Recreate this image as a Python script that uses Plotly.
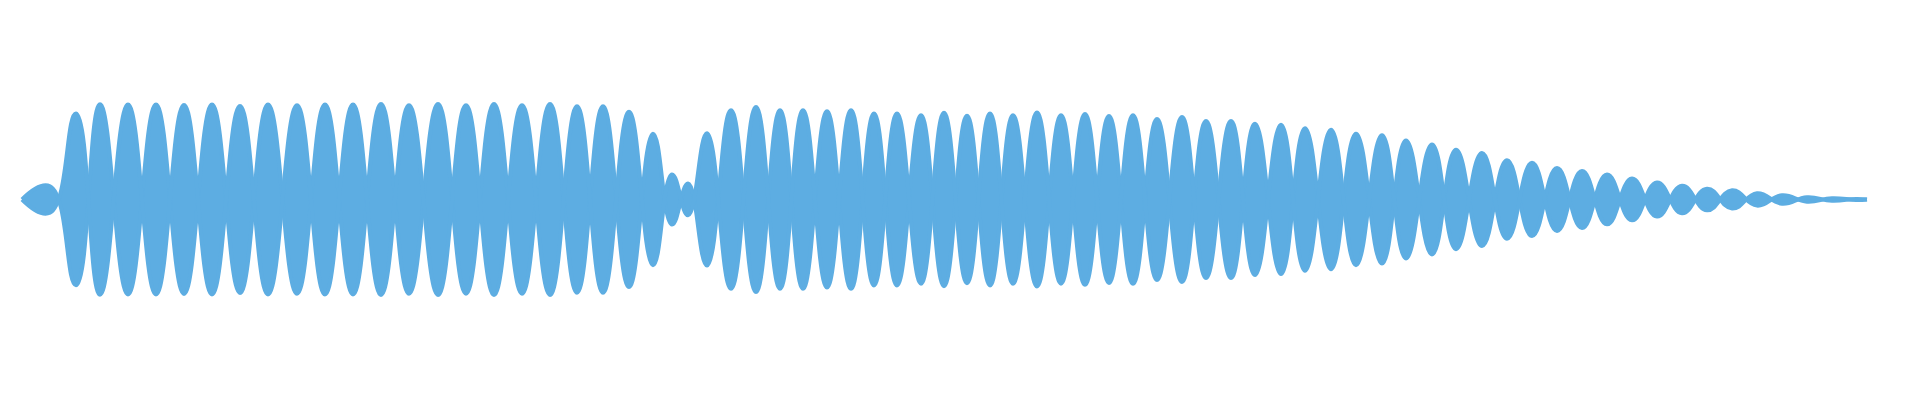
import plotly.graph_objects as go

# where the waveform starts and stops (flat)
wave_start = 22
wave_end = 1867

# position of each lobe's peak
peak_x = [50, 76, 100, 128, 156, 184, 212, 240, 268, 297,
          325, 353, 381, 409, 438, 466, 494, 522, 550, 577,
          603, 629, 653, 672, 688, 707, 731, 756, 780, 803,
          827, 851, 874, 897, 921, 944, 967, 990, 1013, 1037,
          1061, 1085, 1109, 1133, 1157, 1182, 1206, 1231, 1255, 1281,
          1305, 1331, 1356, 1382, 1406, 1432, 1456, 1482, 1507, 1532,
          1557, 1582, 1607, 1632, 1657, 1682, 1707, 1732, 1757, 1782,
          1807, 1832, 1856]

# peak amplitude of each lobe
peak_amp = [13.5, 87.7, 97.2, 97.0, 97.0, 96.5, 97.0, 95.5, 97.0, 96.3,
            97.0, 97.0, 97.5, 96.2, 97.5, 96.2, 97.5, 96.2, 97.5, 95.2,
            95.2, 89.5, 67.2, 25.5, 16.2, 67.5, 91.2, 94.5, 91.2, 91.2,
            90.0, 91.2, 87.8, 87.8, 86.0, 88.5, 85.5, 87.8, 86.0, 88.8,
            86.0, 87.2, 85.2, 86.0, 82.2, 84.2, 80.2, 80.2, 77.2, 76.2,
            72.8, 71.2, 67.2, 65.5, 60.2, 56.2, 50.8, 47.5, 40.1, 37.4,
            32.1, 29.1, 25.4, 21.3, 17.4, 14.0, 11.0, 9.3, 6.3, 4.3,
            2.3, 1.3, 0.5]

color = '#5dade2'

# the wave swings up and down from one peak to the next
xs = [wave_start] + peak_x + [wave_end]
ys = [0] + [amp if i % 2 == 0 else -amp for i, amp in enumerate(peak_amp)] + [0]

line_style = dict(color=color, width=4, shape='spline', smoothing=1.3, simplify=False)

wave = go.Scatter(x=xs, y=ys, mode='lines', line=line_style,
                  hoverinfo='skip', showlegend=False)
# mirrored copy, filled against the first one -> symmetric lobes
mirror = go.Scatter(x=xs, y=[-v for v in ys], mode='lines', line=line_style,
                    fill='tonexty', fillcolor=color,
                    hoverinfo='skip', showlegend=False)

fig = go.Figure(data=[wave, mirror])
# page body keeps an 8px margin, so the figure is 16px smaller each way
fig.update_layout(
    width=1904, height=384,
    margin=dict(l=0, r=0, t=0, b=0),
    paper_bgcolor='white', plot_bgcolor='white',
    xaxis=dict(visible=False, range=[8, 1912], fixedrange=True),
    yaxis=dict(visible=False, range=[-196.6, 195.5], fixedrange=True),
)

fig.write_html("out.html")
